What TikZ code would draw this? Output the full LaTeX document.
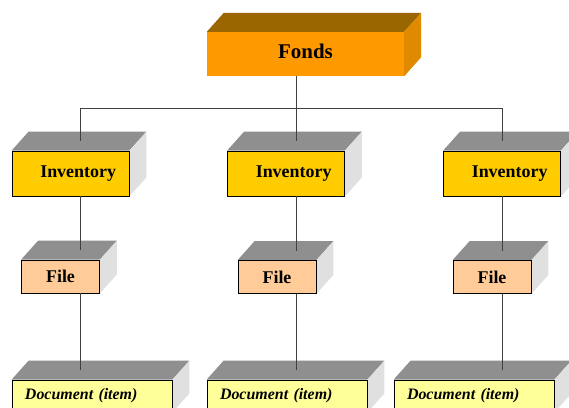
\documentclass[tikz,border=0pt]{standalone}
\usepackage{fontspec}
\setmainfont{Liberation Serif}
\usepackage{xcolor}
\usetikzlibrary{calc, backgrounds}

\definecolor{fondsfront}{HTML}{FF9900}
\definecolor{fondstop}{HTML}{996600}
\definecolor{fondsside}{HTML}{E08A00}
\definecolor{invfront}{HTML}{FFCC00}
\definecolor{filefront}{HTML}{FFCC99}
\definecolor{docfront}{HTML}{FFFF99}
\definecolor{grigiotop}{HTML}{8F8F8F}
\definecolor{grigioside}{HTML}{E0E0E0}

% facce superiore e laterale di un blocco
\newcommand{\blocco}[3]{%
  \begin{pgfonlayer}{background}
    \fill[#2] (#1.north west) -- ++(17,-19) -- ($(#1.north east)+(17,-19)$) -- (#1.north east) -- cycle;
    \fill[#3] (#1.north east) -- ++(17,-19) -- ($(#1.south east)+(17,-19)$) -- (#1.south east) -- cycle;
  \end{pgfonlayer}
  \coordinate (#1-top) at ($(#1.north)+(8.5,-9.5)$);
}

\begin{document}
\begin{tikzpicture}[
    x=1bp, y=-1bp,
    fondsbox/.style={rectangle, fill=fondsfront, minimum width=197bp, minimum height=44bp,
        text depth=6bp, font=\fontsize{21}{23}\selectfont\bfseries},
    invbox/.style={rectangle, draw, fill=invfront, line width=0.8bp, inner xsep=13bp,
        text width=91bp, align=right, minimum height=45bp,
        font=\fontsize{18}{20}\selectfont\bfseries},
    filebox/.style={rectangle, draw, fill=filefront, line width=0.8bp,
        minimum width=78bp, minimum height=33bp,
        font=\fontsize{18}{20}\selectfont\bfseries},
    docbox/.style={rectangle, draw, fill=docfront, line width=0.8bp, inner xsep=13bp,
        text width=134bp, align=left, minimum height=32bp,
        font=\fontsize{16}{18}\selectfont\bfseries\itshape},
    link/.style={draw=black!75, line width=0.8bp}
]
\useasboundingbox (0,0) rectangle (569,407);
\clip (0,0) rectangle (569,407);

% Nodo radice
\node[fondsbox] (fonds) at (305.5,54) {Fonds};
\blocco{fonds}{fondstop}{fondsside}

% Inventari
\node[invbox] (inv1) at (70.5,173.5) {Inventory};
\node[invbox] (inv2) at (286,173.5) {Inventory};
\node[invbox] (inv3) at (502,173.5) {Inventory};

% File
\node[filebox] (file1) at (60.5,276.5) {File};
\node[filebox] (file2) at (277,277) {File};
\node[filebox] (file3) at (492,277) {File};

% Documenti
\node[docbox] (doc1) at (92,396) {Document (item)};
\node[docbox] (doc2) at (287,396) {Document (item)};
\node[docbox] (doc3) at (474,396) {Document (item)};

\foreach \n in {inv1,inv2,inv3,file1,file2,file3,doc1,doc2,doc3}
  \blocco{\n}{grigiotop}{grigioside};

% Collegamenti
\coordinate (c1) at (80,108);
\coordinate (c2) at (296,108);
\coordinate (c3) at (502,108);
\draw[link] (fonds.south -| c2) -- (c2);
\draw[link] (c1) -- (c3);
\foreach \i in {1,2,3} {
  \draw[link] (c\i) -- (c\i |- inv\i-top);
  \draw[link] (inv\i.south -| c\i) -- (c\i |- file\i-top);
  \draw[link] (file\i.south -| c\i) -- (c\i |- doc\i-top);
}

\end{tikzpicture}
\end{document}
